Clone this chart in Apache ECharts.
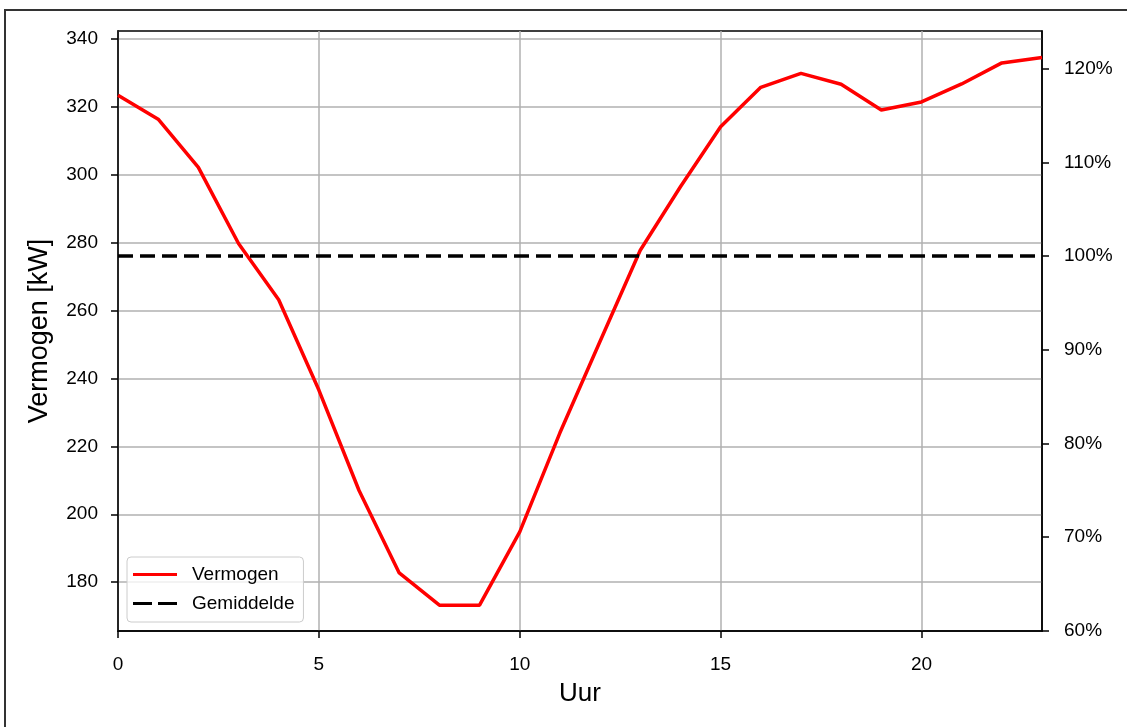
<!DOCTYPE html>
<html>
<head>
<meta charset="utf-8">
<script src="https://cdn.jsdelivr.net/npm/echarts@6/dist/echarts.min.js"></script>
<style>
html,body{margin:0;padding:0;background:#fff;}
#c{width:1127px;height:727px;}
</style>
</head>
<body>
<div id="c"></div>
<script>
const hours = [0,1,2,3,4,5,6,7,8,9,10,11,12,13,14,15,16,17,18,19,20,21,22,23];
const vermogen = [323.5,316.4,302.2,279.8,263.2,236.6,207.0,182.7,173.2,173.2,194.8,224.0,251.0,277.8,296.5,314.2,325.8,329.9,326.7,319.1,321.5,326.8,333.0,334.6];
const gemiddelde = 276.1;
const xTicks = [0,5,10,15,20];
const yTicks = [180,200,220,240,260,280,300,320,340];
const pctTicks = [60,70,80,90,100,110,120];

const FONT = 'Liberation Sans';
const yMin = 165.6, yMax = 342.4;

const chart = echarts.init(document.getElementById('c'), null, {renderer:'canvas'});
chart.setOption({
  backgroundColor:'#fff',
  animation:false,
  textStyle:{fontFamily:FONT},
  graphic:[{type:'rect', shape:{x:5,y:10,width:1140,height:740}, style:{fill:null, stroke:'#333', lineWidth:2}, z:-1}],
  grid:{left:118, top:31, width:924, height:600, show:true, borderColor:'#000', borderWidth:1.5, backgroundColor:'transparent'},
  legend:{
    orient:'vertical', left:127, top:557,
    itemWidth:44, itemHeight:3, itemGap:10,
    padding:[8,9,9,6],
    backgroundColor:'rgba(255,255,255,0.8)', borderColor:'#cccccc', borderWidth:1, borderRadius:4,
    textStyle:{fontSize:19, color:'#000', fontFamily:FONT, padding:[0,0,0,10]},
    data:[
      {name:'Vermogen', icon:'rect', itemStyle:{color:'#ff0000'}},
      {name:'Gemiddelde', icon:'path://M0,0h19v3h-19z M25,0h19v3h-19z', itemStyle:{color:'#000'}}
    ]
  },
  xAxis:{
    type:'value', min:0, max:23,
    name:'Uur', nameLocation:'middle', nameGap:50,
    nameTextStyle:{fontSize:26, color:'#000', fontFamily:FONT},
    axisLine:{show:true, lineStyle:{color:'#000', width:1.5}},
    axisTick:{show:true, length:7, lineStyle:{color:'#000', width:1.5}, customValues:xTicks},
    axisLabel:{fontSize:19, color:'#000', margin:24, customValues:xTicks},
    splitLine:{show:true, lineStyle:{color:'#b0b0b0', width:1.5}}
  },
  yAxis:[{
    type:'value', min:yMin, max:yMax,
    name:'Vermogen [kW]', nameLocation:'middle', nameGap:65,
    nameTextStyle:{fontSize:27, color:'#000', fontFamily:FONT},
    axisLine:{show:true, lineStyle:{color:'#000', width:1.5}},
    axisTick:{show:true, length:7, lineStyle:{color:'#000', width:1.5}, customValues:yTicks},
    axisLabel:{fontSize:19, color:'#000', margin:20, customValues:yTicks},
    splitLine:{show:true, lineStyle:{color:'#b0b0b0', width:1.5}}
  },{
    type:'value', position:'right',
    min: yMin/gemiddelde*100, max: yMax/gemiddelde*100,
    axisLine:{show:true, lineStyle:{color:'#000', width:1.5}},
    axisTick:{show:true, length:7, lineStyle:{color:'#000', width:1.5}, customValues:pctTicks},
    axisLabel:{fontSize:19, color:'#000', margin:22, customValues:pctTicks, formatter:'{value}%'},
    splitLine:{show:false}
  }],
  series:[{
    name:'Vermogen', type:'line', symbol:'none', yAxisIndex:0,
    data: hours.map((h,i)=>[h, vermogen[i]]),
    lineStyle:{color:'#ff0000', width:3.5}, itemStyle:{color:'#ff0000'}, z:3
  },{
    name:'Gemiddelde', type:'line', symbol:'none', yAxisIndex:0,
    data: [[hours[0], gemiddelde],[hours[hours.length-1], gemiddelde]],
    lineStyle:{color:'#000', width:3.5, type:[15,7]}, itemStyle:{color:'#000'}, z:3
  }]
});
</script>
</body>
</html>
